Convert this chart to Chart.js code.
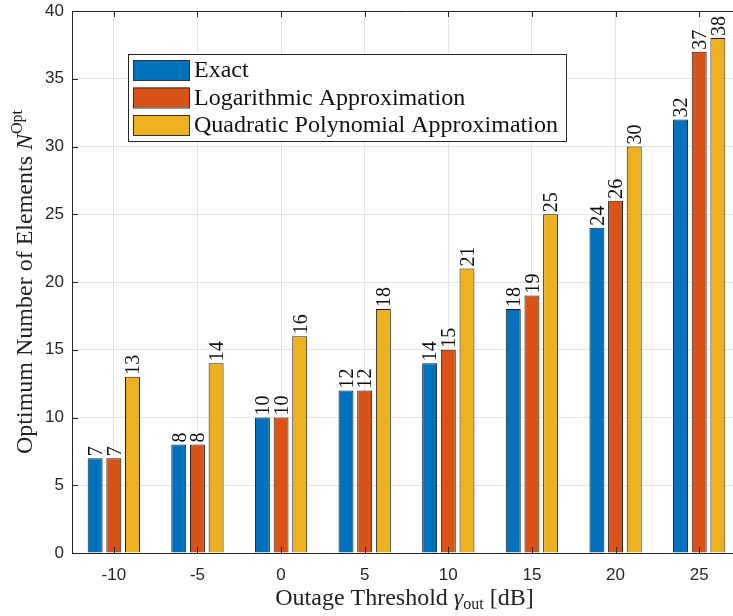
<!DOCTYPE html>
<html>
<head>
<meta charset="utf-8">
<script src="https://cdn.jsdelivr.net/npm/chart.js@4.4.1/dist/chart.umd.min.js"></script>
<style>
  html, body { margin: 0; padding: 0; background: #fff; }
  #wrap { width: 733px; height: 616px; overflow: hidden; position: relative; }
  canvas { display: block; }
</style>
</head>
<body>
<div id="wrap"><canvas id="optimum-n" width="741" height="616"></canvas></div>
<script>
// values
var thresholds = ['-10', '-5', '0', '5', '10', '15', '20', '25'];
var exactN = [7, 8, 10, 12, 14, 18, 24, 32];
var logApproxN = [7, 8, 10, 12, 15, 19, 26, 37];
var quadApproxN = [13, 14, 16, 18, 21, 25, 30, 38];
var seriesNames = ['Exact', 'Logarithmic Approximation', 'Quadratic Polynomial Approximation'];
var seriesColors = ['#0072BD', '#D95319', '#EDB120'];

var serif = '"Liberation Serif", "Times New Roman", serif';
var sans = '"Liberation Sans", Arial, sans-serif';
var ink = '#262626';
var gridColor = '#e4e4e4';

// draws a run of text pieces (for sub/superscripts) centred on the origin
function drawRich(ctx, parts, x, y, angle) {
    ctx.save();
    ctx.translate(x, y);
    ctx.rotate(angle);
    var total = 0;
    parts.forEach(function(p) {
        ctx.font = p.font;
        p.w = ctx.measureText(p.text).width;
        total += p.w;
    });
    var cx = -total / 2;
    ctx.textAlign = 'left';
    ctx.textBaseline = 'alphabetic';
    ctx.fillStyle = '#222';
    parts.forEach(function(p) {
        ctx.font = p.font;
        ctx.fillText(p.text, cx, p.dy || 0);
        cx += p.w;
    });
    ctx.restore();
}

var decor = {
    id: 'decor',
    afterDraw: function(chart) {
        var ctx = chart.ctx;
        var area = chart.chartArea;
        var xs = chart.scales.x;
        var ys = chart.scales.y;

        // box top edge and inward ticks
        ctx.save();
        ctx.strokeStyle = ink;
        ctx.lineWidth = 1;
        ctx.beginPath();
        ctx.moveTo(area.left, area.top + 0.5);
        ctx.lineTo(area.right, area.top + 0.5);
        xs.ticks.forEach(function(t, i) {
            var px = Math.round(xs.getPixelForTick(i)) + 0.5;
            ctx.moveTo(px, area.bottom);
            ctx.lineTo(px, area.bottom - 6);
            ctx.moveTo(px, area.top);
            ctx.lineTo(px, area.top + 6);
        });
        ys.ticks.forEach(function(t) {
            var py = Math.round(ys.getPixelForValue(t.value)) + 0.5;
            ctx.moveTo(area.left, py);
            ctx.lineTo(area.left + 6, py);
        });
        ctx.stroke();
        ctx.restore();

        // value labels on top of bars, rotated
        var labelSize = 20;
        chart.data.datasets.forEach(function(ds, i) {
            var meta = chart.getDatasetMeta(i);
            meta.data.forEach(function(bar, j) {
                ctx.save();
                ctx.translate(bar.x, bar.y - 2);
                ctx.rotate(-Math.PI / 2);
                ctx.font = labelSize + 'px ' + serif;
                ctx.fillStyle = '#111';
                ctx.textAlign = 'left';
                ctx.textBaseline = 'alphabetic';
                ctx.fillText(String(ds.data[j]), 0, 0.34 * labelSize);
                ctx.restore();
            });
        });

        // legend box
        var lx = 128, ly = 54, lw = 438, lh = 87;
        ctx.save();
        ctx.fillStyle = '#fff';
        ctx.fillRect(lx, ly, lw, lh);
        ctx.strokeStyle = ink;
        ctx.lineWidth = 1;
        ctx.strokeRect(lx + 0.5, ly + 0.5, lw, lh);
        chart.data.datasets.forEach(function(ds, i) {
            var cy = 70 + i * 27.5;
            ctx.fillStyle = ds.backgroundColor;
            ctx.fillRect(133, cy - 10, 56, 20);
            ctx.strokeStyle = '#333';
            ctx.strokeRect(133.5, cy - 9.5, 56, 20);
            ctx.fillStyle = '#111';
            ctx.font = '24px ' + serif;
            ctx.textAlign = 'left';
            ctx.textBaseline = 'middle';
            ctx.fillText(ds.label, 194, cy + 1);
        });
        ctx.restore();

        // axis titles
        var f = '24px ' + serif;
        var fi = 'italic 24px ' + serif;
        var fs = '16px ' + serif;
        drawRich(ctx, [
            {text: 'Optimum Number of Elements ', font: f},
            {text: 'N', font: fi},
            {text: 'Opt', font: fs, dy: -10}
        ], 32, (area.top + area.bottom) / 2, -Math.PI / 2);
        drawRich(ctx, [
            {text: 'Outage Threshold ', font: f},
            {text: '\u03b3', font: fi},
            {text: 'out', font: fs, dy: 4},
            {text: ' [dB]', font: f}
        ], (area.left + area.right) / 2 - 2, 605, 0);
    }
};

var chartCtx = document.getElementById('optimum-n').getContext('2d');
var optimumChart = new Chart(chartCtx, {
    type: 'bar',
    data: {
        labels: thresholds,
        datasets: [
            {label: seriesNames[0], data: exactN, backgroundColor: seriesColors[0], borderColor: '#1a1a1a', borderWidth: 1},
            {label: seriesNames[1], data: logApproxN, backgroundColor: seriesColors[1], borderColor: '#1a1a1a', borderWidth: 1},
            {label: seriesNames[2], data: quadApproxN, backgroundColor: seriesColors[2], borderColor: '#1a1a1a', borderWidth: 1}
        ]
    },
    options: {
        responsive: false,
        animation: false,
        layout: {padding: {top: 11, left: 0, right: 0, bottom: 0}},
        datasets: {bar: {categoryPercentage: 0.67, barPercentage: 0.8}},
        plugins: {
            legend: {display: false},
            tooltip: {enabled: false}
        },
        scales: {
            x: {
                offset: true,
                grid: {offset: false, color: gridColor, drawTicks: false},
                border: {color: ink, width: 1},
                ticks: {font: {family: sans, size: 17}, color: ink, padding: 12},
                afterFit: function(s) {
                    s.height = 63;
                    s.paddingLeft = 0;
                    s.paddingRight = 0;
                }
            },
            y: {
                min: 0,
                max: 40,
                grid: {color: gridColor, drawTicks: false},
                border: {color: ink, width: 1},
                ticks: {stepSize: 5, font: {family: sans, size: 17}, color: ink, padding: 8},
                afterFit: function(s) {
                    s.width = 72;
                    s.paddingTop = 0;
                    s.paddingBottom = 0;
                }
            }
        }
    },
    plugins: [decor]
});
</script>
</body>
</html>
